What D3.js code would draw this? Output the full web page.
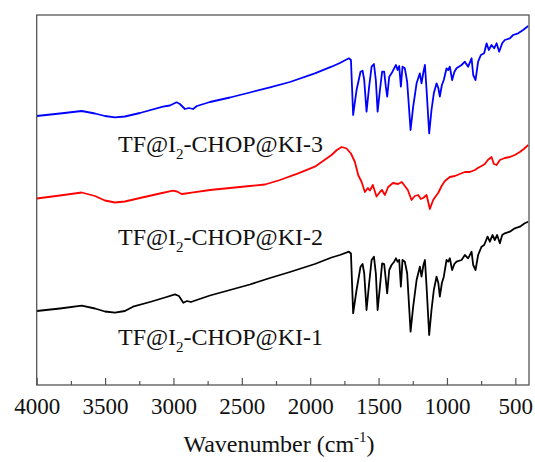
<!DOCTYPE html>
<html>
<head>
<meta charset="utf-8">
<script src="https://cdn.jsdelivr.net/npm/d3@7/dist/d3.min.js"></script>
<style>
  html, body { margin: 0; padding: 0; background: #fff; }
  svg { display: block; }
  text { font-family: "Liberation Serif", "Times New Roman", serif; fill: #111; }
</style>
</head>
<body>
<svg id="chart" width="535" height="462"></svg>
<script>
// FTIR spectra (offset transmittance, arbitrary units) vs wavenumber (cm^-1)
const wnKI3 = [4000,3830,3671,3574,3501,3428,3355,3245,3077,3026,2977,2953,2916,2887,2857,2828,2733,2587,2441,2294,2148,1966,1844,1783,1717,1702,1686,1661,1632,1617,1605,1588,1569,1551,1534,1520,1507,1490,1474,1459,1447,1437,1422,1405,1386,1373,1361,1349,1337,1325,1308,1291,1266,1247,1222,1198,1186,1172,1161,1149,1130,1113,1096,1076,1063,1052,1037,1023,1003,991,979,962,946,930,893,869,845,820,808,791,772,752,728,710,694,674,655,637,618,596,577,540,516,479,443,406];
const tKI3 = [269,271.5,274,271.5,269,267.7,268.5,272,278.3,279.5,282.7,281,276,277,276,279,283,287.5,292.5,297.7,303,311.7,318.3,322,326.7,325,270,295,313.3,314.3,305,273.3,298.3,318.3,321,305,273.3,295,313.3,313.3,298.3,288.3,308.3,311.7,316.7,320,315,319,298.3,318.3,316.7,303.3,255,278.3,301.7,311.7,301.7,313,320,295,251.7,275,291.7,301.7,297,288.3,300,305,316.7,315,318.3,305,313,316.7,320,323.3,318.3,326.7,310,305,323.3,330,331.7,341.7,335,340,336.7,341.7,333.3,341.7,345,346.7,350,351.7,355,359];

const wnKI2 = [4000,3830,3671,3574,3501,3428,3355,3245,3099,3004,2974,2940,2909,2867,2733,2587,2441,2331,2221,2088,1966,1844,1805,1770,1734,1702,1673,1649,1624,1600,1578,1564,1542,1515,1490,1475,1454,1430,1395,1357,1330,1308,1286,1259,1235,1210,1191,1174,1149,1125,1101,1081,1064,1039,1015,979,942,906,869,833,796,774,747,723,701,674,657,637,613,577,540,504,467,438,406];
const tKI2 = [186.5,189.5,192.5,189,184.5,182.5,183.5,187,191.5,194.3,193.5,191,191.5,192.3,195,197,199,200.5,205,211.7,218.3,230,235,238,236.5,231.5,223,210,203,193,197,194.5,200,188.5,193,195,190,198,202,201,203,199,195,185,189,190,186,187,190,176,185,189,192,199,204,208,209,211,213,213,215,217,219,221,225,228,221,220,225,227,228,230,233,236,240];

const wnKI1 = [4000,3830,3671,3574,3501,3428,3355,3296,3172,3062,2989,2960,2928,2901,2872,2830,2733,2587,2441,2294,2148,1966,1844,1783,1717,1702,1686,1661,1632,1617,1605,1588,1569,1551,1534,1520,1507,1490,1474,1459,1447,1437,1422,1405,1386,1373,1361,1349,1337,1325,1308,1291,1266,1247,1222,1198,1186,1172,1161,1149,1130,1113,1096,1076,1063,1052,1037,1023,1003,991,979,962,946,930,893,869,845,820,808,791,772,747,728,703,686,667,650,633,613,596,577,540,504,467,431,406];
const tKI1 = [74,76.5,79.3,76.5,73.5,72.3,74,78.3,83,87.5,90.7,89,82.3,84,83,85,89.5,95,100.5,107,113,121,127.5,130,133.3,131.5,71.7,95,118.3,121,111.7,75,101.7,125,128.3,111.7,75,98.3,121.7,121,105,91.7,115,120,123.3,126.7,123.3,125,98.3,125,123.3,111.7,53.3,78.3,105,118.3,108.3,120,125,98.3,50,75,95,108.3,102,88.3,102,108.3,125,123.3,126.7,115,121,123.3,125,130,126.7,133.3,120,115,130,138.3,140,148.3,143.3,150,145,150,141.7,150,151.7,153.3,156.7,158.3,161.7,163.3];

const seriesNames = ["TF@I2-CHOP@KI-3", "TF@I2-CHOP@KI-2", "TF@I2-CHOP@KI-1"];
const seriesColors = ["#0000ff", "#ff0000", "#000000"];
const majorTicks = [4000, 3500, 3000, 2500, 2000, 1500, 1000, 500];
const minorTicks = [3750, 3250, 2750, 2250, 1750, 1250, 750];
const labelLevels = [233, 140, 40]; // label baselines in transmittance units

const svg = d3.select("#chart");
const padL = 36.7, padR = 529, padT = 15, padB = 385;

const x = d3.scaleLinear().domain([4000, 400]).range([padL, padR]);
const y = d3.scaleLinear().domain([0, 370]).range([padB, padT]);

const series = [
  { name: seriesNames[0], color: seriesColors[0], wn: wnKI3, t: tKI3 },
  { name: seriesNames[1], color: seriesColors[1], wn: wnKI2, t: tKI2 },
  { name: seriesNames[2], color: seriesColors[2], wn: wnKI1, t: tKI1 }
];

const line = d3.line().x(d => x(d[0])).y(d => y(d[1]));

const plot = svg.append("g");
plot.append("defs").append("clipPath").attr("id", "clip")
  .append("rect").attr("x", padL).attr("y", padT)
  .attr("width", padR - padL).attr("height", padB - padT);

series.forEach(s => {
  plot.append("path")
    .attr("clip-path", "url(#clip)")
    .attr("d", line(s.wn.map((w, i) => [w, s.t[i]])))
    .attr("fill", "none")
    .attr("stroke", s.color)
    .attr("stroke-width", 1.8)
    .attr("stroke-linejoin", "round");
});

// frame
svg.append("rect")
  .attr("x", padL).attr("y", padT)
  .attr("width", padR - padL).attr("height", padB - padT)
  .attr("fill", "none").attr("stroke", "#555").attr("stroke-width", 1.3);

// bottom axis: inward ticks
const axis = d3.axisBottom(x).tickValues(majorTicks).tickFormat(d3.format("d"))
  .tickSizeInner(-7).tickSizeOuter(0).tickPadding(13);
const gx = svg.append("g").attr("transform", `translate(0,${padB})`).call(axis);
gx.select(".domain").remove();
gx.selectAll(".tick line").attr("stroke", "#555").attr("stroke-width", 1.2);
gx.selectAll(".tick text")
  .attr("font-family", "'Liberation Serif', 'Times New Roman', serif")
  .attr("font-size", 23).attr("fill", "#111");

const gm = svg.append("g").attr("transform", `translate(0,${padB})`)
  .call(d3.axisBottom(x).tickValues(minorTicks).tickSizeInner(-4).tickSizeOuter(0).tickFormat(""));
gm.select(".domain").remove();
gm.selectAll(".tick line").attr("stroke", "#555").attr("stroke-width", 1.2);

// axis title
const title = svg.append("text")
  .attr("x", 279).attr("y", 452)
  .attr("text-anchor", "middle")
  .attr("font-size", 24);
title.append("tspan").text("Wavenumber (cm");
title.append("tspan").attr("dy", -10).attr("font-size", 15).text("-1");
title.append("tspan").attr("dy", 10).text(")");

// series labels
series.forEach((s, i) => {
  const t = svg.append("text")
    .attr("x", 118).attr("y", y(labelLevels[i]))
    .attr("font-size", 24);
  const parts = s.name.split("I2");
  t.append("tspan").text(parts[0] + "I");
  t.append("tspan").attr("dy", 7).attr("font-size", 15).text("2");
  t.append("tspan").attr("dy", -7).text(parts[1]);
});
</script>
</body>
</html>
